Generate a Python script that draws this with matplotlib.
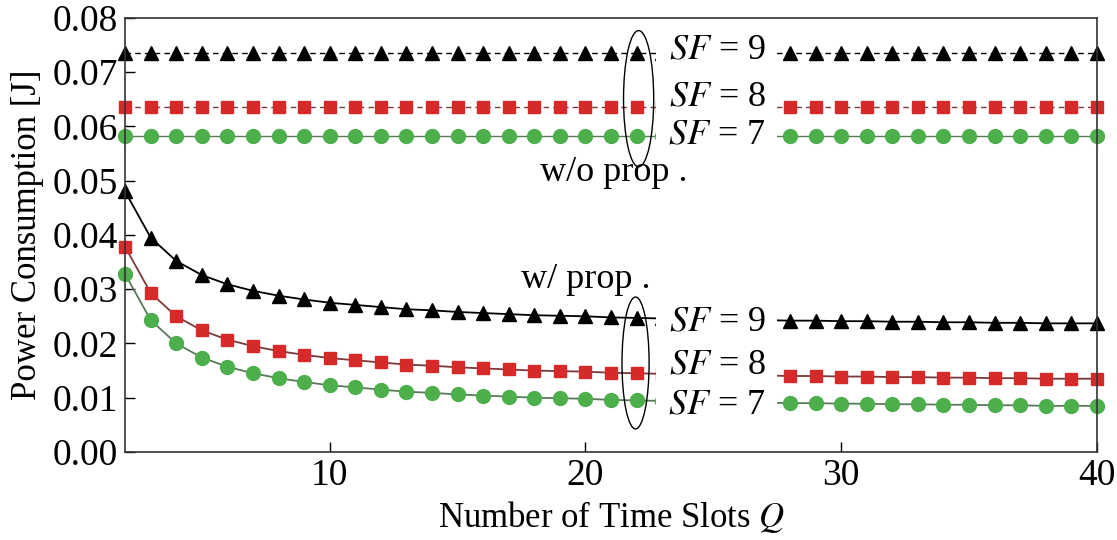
import matplotlib
matplotlib.use("Agg")
import matplotlib.pyplot as plt
from matplotlib.patches import Ellipse, Rectangle

plt.rcParams['font.family'] = ['Liberation Serif', 'DejaVu Serif']
plt.rcParams['mathtext.fontset'] = 'stix'

# number of time slots
Q = list(range(2, 41))

# without proposed method (constant)
wo_sf9 = 0.0735
wo_sf8 = 0.0635
wo_sf7 = 0.0583

# with proposed method
w_sf9 = [0.0480, 0.0395, 0.0352, 0.0326, 0.0309, 0.0297, 0.0288, 0.0281, 0.0275, 0.0271,
         0.0267, 0.0263, 0.0261, 0.0258, 0.0256, 0.0254, 0.0252, 0.0251, 0.0250, 0.0248,
         0.0247, 0.0246, 0.0245, 0.0245, 0.0244, 0.0243, 0.0242, 0.0242, 0.0241, 0.0241,
         0.0240, 0.0240, 0.0239, 0.0239, 0.0238, 0.0238, 0.0237, 0.0237, 0.0237]
w_sf8 = [0.0378, 0.0293, 0.0250, 0.0224, 0.0207, 0.0195, 0.0186, 0.0179, 0.0173, 0.0169,
         0.0165, 0.0161, 0.0159, 0.0156, 0.0154, 0.0152, 0.0150, 0.0149, 0.0148, 0.0146,
         0.0145, 0.0144, 0.0143, 0.0143, 0.0142, 0.0141, 0.0140, 0.0140, 0.0139, 0.0139,
         0.0138, 0.0138, 0.0137, 0.0137, 0.0136, 0.0136, 0.0135, 0.0135, 0.0135]
w_sf7 = [0.0328, 0.0243, 0.0200, 0.0174, 0.0157, 0.0145, 0.0136, 0.0129, 0.0123, 0.0119,
         0.0115, 0.0111, 0.0109, 0.0106, 0.0104, 0.0102, 0.0100, 0.0099, 0.0098, 0.0096,
         0.0095, 0.0094, 0.0093, 0.0093, 0.0092, 0.0091, 0.0090, 0.0090, 0.0089, 0.0089,
         0.0088, 0.0088, 0.0087, 0.0087, 0.0086, 0.0086, 0.0085, 0.0085, 0.0085]

black = '#000000'
red = '#d62a2a'
green = '#4caf4c'

fig = plt.figure(figsize=(11.17, 5.40), dpi=100)
ax = fig.add_axes([0.112, 0.163, 0.870, 0.804])

ms = 10
ax.plot(Q, [wo_sf9] * len(Q), color=black, ls=(0, (4, 3)), lw=1, marker='^', ms=ms, mfc=black, mec=black, clip_on=False)
ax.plot(Q, [wo_sf8] * len(Q), color='#7a3a3a', ls=(0, (4, 3)), lw=1, marker='s', ms=ms - 1, mfc=red, mec=red, clip_on=False)
ax.plot(Q, [wo_sf7] * len(Q), color='#5a7a5a', ls='-', lw=1, marker='o', ms=ms, mfc=green, mec=green, clip_on=False)

ax.plot(Q, w_sf9, color=black, lw=1.3, marker='^', ms=ms, mfc=black, mec=black, clip_on=False)
ax.plot(Q, w_sf8, color='#7a3a3a', lw=1.3, marker='s', ms=ms - 1, mfc=red, mec=red, clip_on=False)
ax.plot(Q, w_sf7, color='#5a7a5a', lw=1.3, marker='o', ms=ms, mfc=green, mec=green, clip_on=False)

# white gap where the labels sit
ax.add_patch(Rectangle((22.75, 0.0005), 4.75, 0.0785, facecolor='white', edgecolor='none', zorder=5))

fs = 26
for y, t in [(0.0741, '$SF$ = 9'), (0.0654, '$SF$ = 8'), (0.0584, '$SF$ = 7'),
             (0.0240, '$SF$ = 9'), (0.0160, '$SF$ = 8'), (0.0087, '$SF$ = 7')]:
    ax.text(25.15, y, t, ha='center', va='center', fontsize=fs, zorder=6)

ax.text(21.1, 0.0515, 'w/o prop .', ha='center', va='center', fontsize=26, zorder=6)
ax.text(20.0, 0.0318, 'w/ prop .', ha='center', va='center', fontsize=26, zorder=6)

ax.add_patch(Ellipse((22.08, 0.0651), 1.18, 0.0251, fill=False, edgecolor='black', lw=1, zorder=7))
ax.add_patch(Ellipse((21.96, 0.0164), 1.06, 0.0243, fill=False, edgecolor='black', lw=1, zorder=7))

ax.set_xlim(2, 40)
ax.set_ylim(0, 0.08)
ax.set_xticks([10, 20, 30, 40])
ax.set_yticks([0.00, 0.01, 0.02, 0.03, 0.04, 0.05, 0.06, 0.07, 0.08])
ax.set_yticklabels(['0.00', '0.01', '0.02', '0.03', '0.04', '0.05', '0.06', '0.07', '0.08'])
ax.tick_params(direction='in', length=7, width=1, labelsize=27, pad=5)
for s in ax.spines.values():
    s.set_linewidth(1.2)
    s.set_color('#333333')

ax.set_xlabel('Number of Time Slots $Q$', fontsize=25, labelpad=4)
ax.set_ylabel('Power Consumption [J]', fontsize=25, labelpad=6)

fig.savefig('out.png', dpi=100)
